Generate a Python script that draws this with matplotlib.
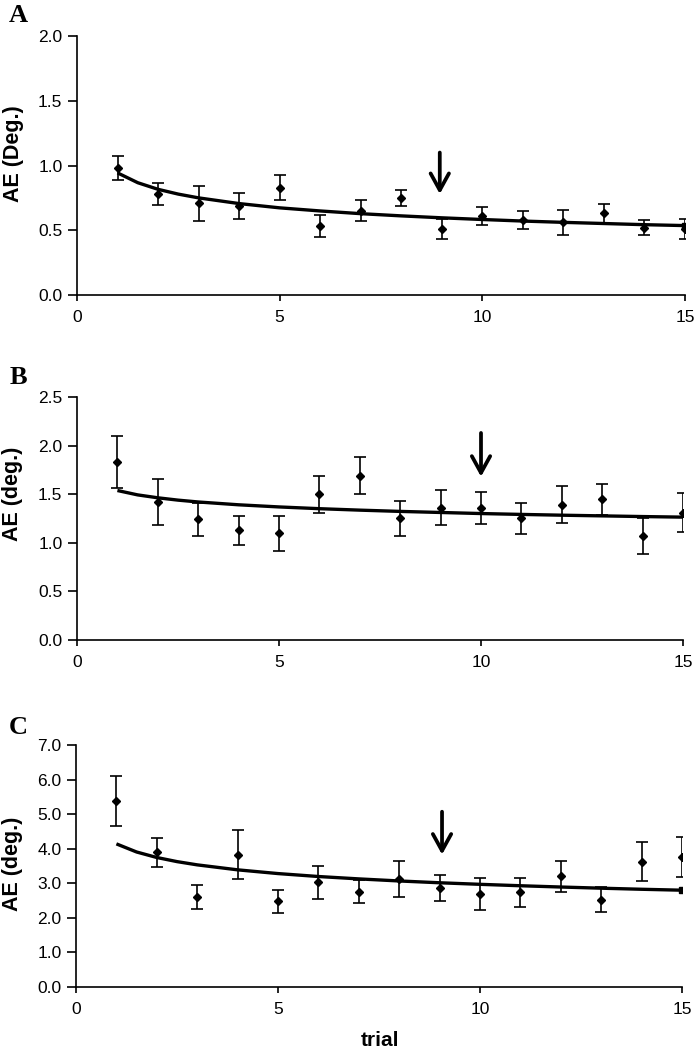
import matplotlib
matplotlib.use("Agg")
import matplotlib.pyplot as plt

plt.rcParams['font.family'] = ['Liberation Sans', 'DejaVu Sans']

# ---------------- data ----------------
trials = list(range(1, 16))

a_mean = [0.98, 0.78, 0.71, 0.69, 0.83, 0.53, 0.65, 0.75, 0.51, 0.61, 0.58, 0.56, 0.63, 0.52, 0.51]
a_err = [0.09, 0.085, 0.135, 0.10, 0.10, 0.085, 0.08, 0.06, 0.08, 0.07, 0.07, 0.10, 0.075, 0.06, 0.08]

b_mean = [1.83, 1.42, 1.24, 1.13, 1.10, 1.50, 1.69, 1.25, 1.36, 1.36, 1.25, 1.39, 1.45, 1.07, 1.31]
b_err = [0.27, 0.24, 0.17, 0.15, 0.18, 0.19, 0.19, 0.18, 0.18, 0.165, 0.16, 0.19, 0.16, 0.19, 0.20]

c_mean = [5.38, 3.90, 2.60, 3.82, 2.48, 3.03, 2.76, 3.12, 2.87, 2.69, 2.74, 3.20, 2.53, 3.63, 3.75]
c_err = [0.73, 0.42, 0.34, 0.71, 0.33, 0.48, 0.33, 0.53, 0.37, 0.45, 0.42, 0.44, 0.37, 0.55, 0.58]

# fitted trend curves
fit_x = [1, 1.5, 2, 2.5, 3, 4, 5, 6, 7, 8, 9, 10, 11, 12, 13, 14, 15]
a_fit = [0.943, 0.867, 0.816, 0.779, 0.750, 0.706, 0.673, 0.649, 0.628, 0.611, 0.596, 0.583, 0.571, 0.561, 0.552, 0.543, 0.536]
b_fit = [1.538, 1.493, 1.463, 1.439, 1.420, 1.391, 1.369, 1.351, 1.336, 1.323, 1.312, 1.301, 1.292, 1.284, 1.277, 1.270, 1.264]
c_fit = [4.14, 3.905, 3.746, 3.627, 3.533, 3.389, 3.281, 3.196, 3.127, 3.067, 3.015, 2.970, 2.929, 2.892, 2.858, 2.827, 2.800]

# arrows: (x, y_start, y_tip)
a_arrow = (8.95, 1.10, 0.78)
b_arrow = (10.0, 2.13, 1.68)
c_arrow = (9.06, 5.07, 3.83)

panel_letters = ['A', 'B', 'C']
y_labels = ['AE (Deg.)', 'AE (deg.)', 'AE (deg.)']
y_max = [2.0, 2.5, 7.0]
y_step = [0.5, 0.5, 1.0]
x_ticks = [0, 5, 10, 15]

# ---------------- figure ----------------
W, H = 695, 1050
fig = plt.figure(figsize=(W / 100, H / 100), dpi=100)

def fx(px):
    return px / W

def fy(py):
    return 1 - py / H

# axes boxes in pixel coords: left, top, right, bottom
boxes = [(77, 36, 685, 295), (77, 397, 683, 640), (76, 745, 682, 987)]
letter_pos = [(18, 15), (18, 377), (18, 727)]
ylabel_pos = [(14, 154), (13, 494), (13, 864)]

means = [a_mean, b_mean, c_mean]
errs = [a_err, b_err, c_err]
fits = [a_fit, b_fit, c_fit]
arrows = [a_arrow, b_arrow, c_arrow]
end_square = [True, False, True]

for i in range(3):
    l, t, r, b = boxes[i]
    ax = fig.add_axes([fx(l), fy(b), fx(r) - fx(l), fy(t) - fy(b)])
    ax.errorbar(trials, means[i], yerr=errs[i], fmt='D', ms=4, color='black',
                ecolor='black', elinewidth=1.2, capsize=4.5, capthick=1.2, zorder=3)
    ax.plot(fit_x, fits[i], color='black', lw=2.4, solid_capstyle='butt', zorder=4)
    if end_square[i]:
        ax.plot([fit_x[-1]], [fits[i][-1]], marker='s', ms=4.5, color='black', zorder=5)
    xa, ys, yt = arrows[i]
    ax.annotate('', xy=(xa, yt), xytext=(xa, ys),
                arrowprops=dict(arrowstyle='->,head_length=0.6,head_width=0.33',
                                lw=2.7, color='black', mutation_scale=20,
                                shrinkA=0, shrinkB=0))
    ax.set_xlim(0, 15)
    ax.set_ylim(0, y_max[i])
    ax.set_xticks(x_ticks)
    n = int(round(y_max[i] / y_step[i]))
    yt_vals = [k * y_step[i] for k in range(n + 1)]
    ax.set_yticks(yt_vals)
    ax.set_yticklabels([f"{v:.1f}" for v in yt_vals])
    for s in ['top', 'right']:
        ax.spines[s].set_visible(False)
    for s in ['left', 'bottom']:
        ax.spines[s].set_linewidth(1.2)
    ax.tick_params(axis='y', direction='out', length=6.5, width=1.2, pad=4,
                   labelsize=12.5, colors='black')
    ax.tick_params(axis='x', direction='out', length=4.5, width=1.2, pad=6,
                   labelsize=12.5, colors='black')
    ax.patch.set_visible(False)

    lx, ly = letter_pos[i]
    fig.text(fx(lx), fy(ly), panel_letters[i], family=['Liberation Serif', 'DejaVu Serif'],
             fontweight='bold', fontsize=19, ha='center', va='center')
    yx, yy = ylabel_pos[i]
    fig.text(fx(yx), fy(yy), y_labels[i], fontweight='bold', fontsize=15.5,
             rotation=90, ha='center', va='center')

fig.text(fx(380), fy(1040), 'trial', fontweight='bold', fontsize=15,
         ha='center', va='center')

fig.savefig('out.png', dpi=100)
